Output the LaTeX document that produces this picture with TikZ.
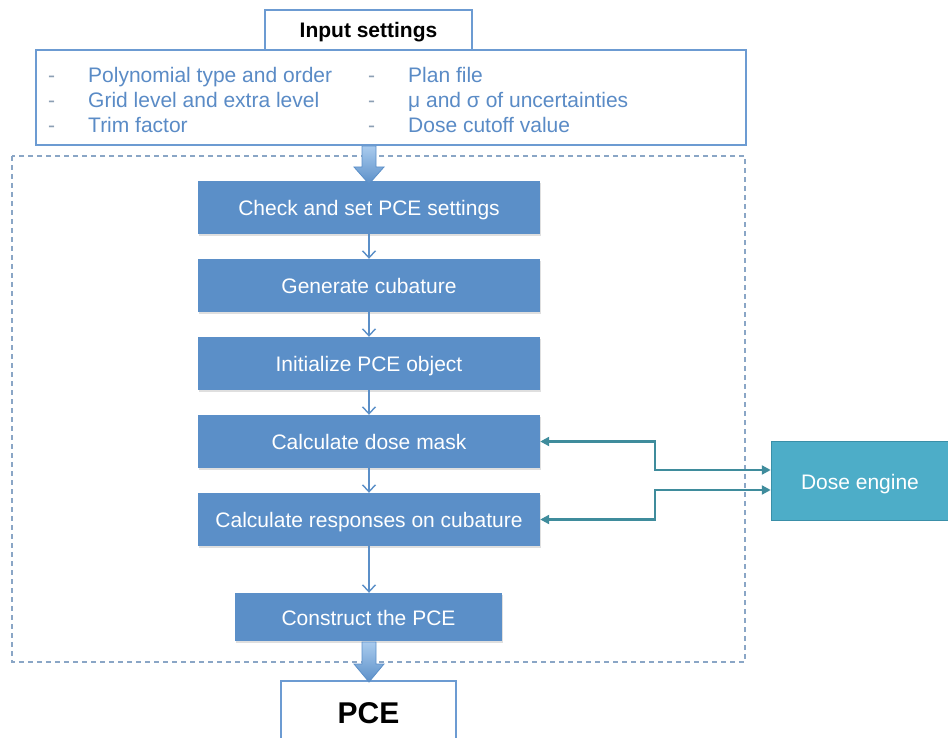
\documentclass[tikz,border=0pt]{standalone}
\usepackage{fontspec}
\setmainfont{Liberation Sans}
\usetikzlibrary{arrows.meta,shadows}
\definecolor{boxblue}{HTML}{5B8FC8}
\definecolor{boxborder}{HTML}{6C9BD2}
\definecolor{listblue}{HTML}{5A8BC6}
\definecolor{dashgray}{HTML}{8C9FB4}
\definecolor{dashblue}{HTML}{8AA6C6}
\definecolor{tealfill}{HTML}{4DADC8}
\definecolor{tealborder}{HTML}{3A8FA8}
\definecolor{tealline}{HTML}{3F8C9C}
\definecolor{lightarrow}{HTML}{A9CBEE}
\begin{document}
\begin{tikzpicture}[x=1pt,y=-1pt,
  stepbox/.style={fill=boxblue, text=white, draw=none, inner sep=0pt,
    minimum width=342pt, minimum height=53pt, text height=17pt, text depth=1pt,
    font=\fontsize{21}{25}\selectfont,
    drop shadow={opacity=0.25, shadow xshift=1pt, shadow yshift=-2pt}},
  framebox/.style={draw=boxborder, line width=2.2pt, fill=white, inner sep=0pt},
  listtext/.style={text=listblue, anchor=west, inner sep=0pt, text height=17pt, text depth=1pt,
    font=\fontsize{21}{25}\selectfont},
  listdash/.style={listtext, text=dashgray},
  thinarrow/.style={draw=boxblue, line width=1.4pt, -{Straight Barb[length=7pt,width=13pt,line width=1.4pt]}},
  linkarrow/.style={draw=tealline, line width=2.5pt, {Triangle[length=9pt,width=9pt]}-{Triangle[length=9pt,width=9pt]}},
  blockarrow/.style={top color=lightarrow, bottom color=boxblue, draw=boxblue, line width=0.8pt}
]
\useasboundingbox (0,0) rectangle (948,738);

% dashed frame
\draw[dashblue, line width=1.2pt, dash pattern=on 5pt off 4pt] (12,156) rectangle (745,662);

% input settings
\node[framebox, minimum width=710pt, minimum height=95pt] (inp) at (391,97.5) {};
\node[framebox, minimum width=207pt, minimum height=40pt, text height=17pt, text depth=1pt,
  font=\fontsize{21}{25}\selectfont\bfseries] (title) at (368.5,30) {Input settings};

\foreach \yy/\txt in {75/Polynomial type and order, 100/Grid level and extra level, 125/Trim factor}{
  \node[listdash] at (48,\yy) {-};
  \node[listtext] at (88,\yy) {\txt};
}
\node[listdash] (d1) at (368,75) {-};
\node[listtext] (r1) at (408,75) {Plan file};
\node[listdash] (d2) at (368,100) {-};
\node[listtext] (r2) at (408,100) {μ and σ of uncertainties};
\node[listdash] (d3) at (368,125) {-};
\node[listtext] (r3) at (408,125) {Dose cutoff value};

% steps
\node[stepbox] (check) at (369,207.5) {Check and set PCE settings};
\node[stepbox] (gen) at (369,285.5) {Generate cubature};
\node[stepbox] (init) at (369,363.5) {Initialize PCE object};
\node[stepbox] (mask) at (369,441.5) {Calculate dose mask};
\node[stepbox] (resp) at (369,519.5) {Calculate responses on cubature};
\node[stepbox, minimum width=267pt, minimum height=48pt] (cons) at (368.5,617) {Construct the PCE};

% dose engine
\node[fill=tealfill, draw=tealborder, line width=1.5pt, text=white, inner sep=0pt,
  minimum width=177pt, minimum height=79pt, text height=17pt, text depth=1pt,
  font=\fontsize{21}{25}\selectfont] (de) at (860,481) {Dose engine};

% output box
\draw[boxborder, line width=2.2pt, fill=white] (281,760) -- (281,681) -- (456,681) -- (456,760);
\node[font=\fontsize{30}{35}\selectfont\bfseries, inner sep=0pt] (pce) at (368.5,713) {PCE};

% thin arrows
\draw[thinarrow] (check.south) -- (gen.north);
\draw[thinarrow] (gen.south) -- (init.north);
\draw[thinarrow] (init.south) -- (mask.north);
\draw[thinarrow] (mask.south) -- (resp.north);
\draw[thinarrow] (resp.south) -- (resp.south |- cons.north);

% links to dose engine
\coordinate (bend) at (655,0);
\draw[linkarrow] (mask.east) -- (mask.east -| bend) |- ([yshift=11pt]de.west);
\draw[linkarrow] (resp.east) -- (resp.east -| bend) |- ([yshift=-9pt]de.west);

% block arrows
\path[blockarrow] (362,146) -- (376,146) -- (376,167) -- (384,167) -- (369,184) -- (354,167) -- (362,167) -- cycle;
\path[blockarrow] (362,642) -- (376,642) -- (376,664) -- (384,664) -- (369,682) -- (354,664) -- (362,664) -- cycle;
\end{tikzpicture}
\end{document}
